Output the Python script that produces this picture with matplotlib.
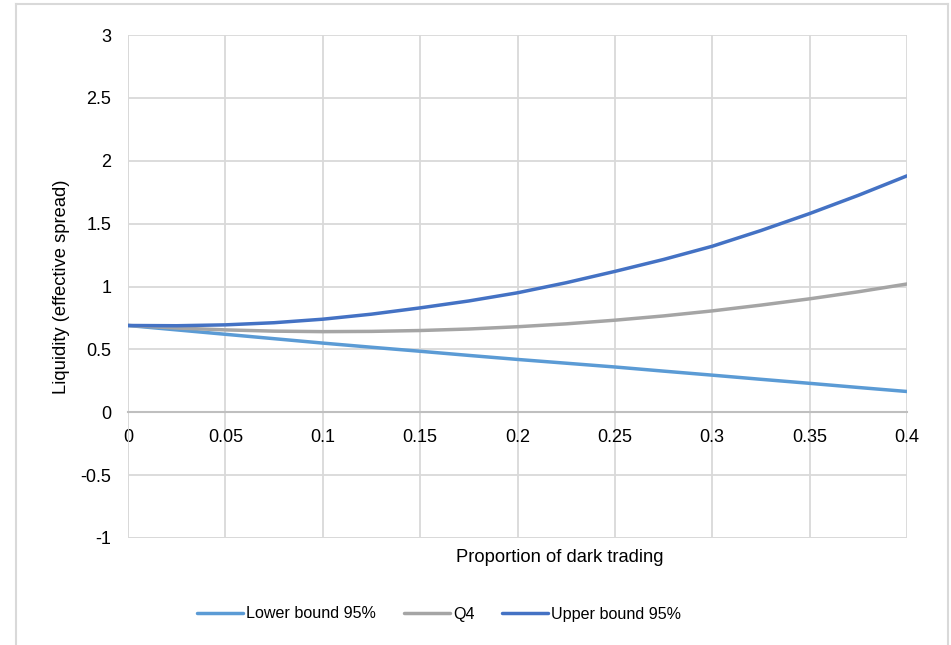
import matplotlib
matplotlib.use("Agg")
import matplotlib.pyplot as plt
from matplotlib.lines import Line2D

plt.rcParams['font.family'] = ['Liberation Sans', 'DejaVu Sans']

# proportion of dark trading
x = [0, 0.025, 0.05, 0.075, 0.1, 0.125, 0.15, 0.175, 0.2,
     0.225, 0.25, 0.275, 0.3, 0.325, 0.35, 0.375, 0.4]
lower = [0.69, 0.655, 0.62, 0.585, 0.55, 0.517, 0.485, 0.452, 0.42,
         0.39, 0.36, 0.327, 0.295, 0.262, 0.23, 0.197, 0.165]
q4 = [0.69, 0.670, 0.655, 0.645, 0.641, 0.643, 0.650, 0.662, 0.68,
      0.703, 0.732, 0.766, 0.806, 0.852, 0.902, 0.958, 1.02]
upper = [0.69, 0.688, 0.695, 0.712, 0.74, 0.78, 0.83, 0.885, 0.95,
         1.03, 1.12, 1.215, 1.32, 1.445, 1.58, 1.725, 1.88]

xticks = [0, 0.05, 0.1, 0.15, 0.2, 0.25, 0.3, 0.35, 0.4]
xticklabels = ['0', '0.05', '0.1', '0.15', '0.2', '0.25', '0.3', '0.35', '0.4']
yticks = [-1, -0.5, 0, 0.5, 1, 1.5, 2, 2.5, 3]
yticklabels = ['-1', '-0.5', '0', '0.5', '1', '1.5', '2', '2.5', '3']

W, H = 951, 645
fig = plt.figure(figsize=(W / 100, H / 100), dpi=100)
ax = fig.add_axes([128 / W, 1 - 538 / H, (907 - 128) / W, (538 - 35) / H])

grid_c = '#d9d9d9'
for s in ['top', 'right', 'left']:
    ax.spines[s].set_visible(False)
ax.spines['bottom'].set_position(('data', 0))
ax.spines['bottom'].set_color('#bfbfbf')
ax.spines['bottom'].set_linewidth(1.5)

ax.set_xlim(0, 0.4)
ax.set_ylim(-1, 3)
ax.set_xticks(xticks)
ax.set_xticklabels(xticklabels)
ax.set_yticks(yticks)
ax.set_yticklabels(yticklabels)
ax.tick_params(axis='both', length=0, labelsize=13, labelcolor='#000000')
ax.tick_params(axis='x', pad=12)
ax.tick_params(axis='y', pad=12)
ax.grid(True, color=grid_c, linewidth=1.3)
ax.set_axisbelow(True)
ax.axhline(-1, color=grid_c, linewidth=1.3)
ax.axvline(0, color=grid_c, linewidth=1.3)

l1, = ax.plot(x, lower, color='#5B9BD5', linewidth=2.5, solid_capstyle='round', label='Lower bound 95%')
l2, = ax.plot(x, q4, color='#A5A5A5', linewidth=2.5, solid_capstyle='round', label='Q4')
l3, = ax.plot(x, upper, color='#4472C4', linewidth=2.5, solid_capstyle='round', label='Upper bound 95%')

fig.text(62 / W, 1 - 287 / H, 'Liquidity (effective spread)', rotation=90,
         ha='center', va='center', fontsize=13.2)
fig.text(560 / W, 1 - 558 / H, 'Proportion of dark trading',
         ha='center', va='center', fontsize=13.2)

fig.legend(handles=[l1, l2, l3], loc='center', bbox_to_anchor=(439 / W, 1 - 614 / H),
           ncol=3, frameon=False, fontsize=11.6, handlelength=2.85, handletextpad=0.2,
           columnspacing=1.7)

# chart frame
fc = '#d9d9d9'
fig.add_artist(Line2D([16 / W, 948 / W], [1 - 4 / H, 1 - 4 / H], color=fc, linewidth=1.5))
fig.add_artist(Line2D([16 / W, 16 / W], [0, 1 - 4 / H], color=fc, linewidth=1.5))
fig.add_artist(Line2D([948 / W, 948 / W], [0, 1 - 4 / H], color=fc, linewidth=1.5))

fig.savefig('out.png', dpi=100)
